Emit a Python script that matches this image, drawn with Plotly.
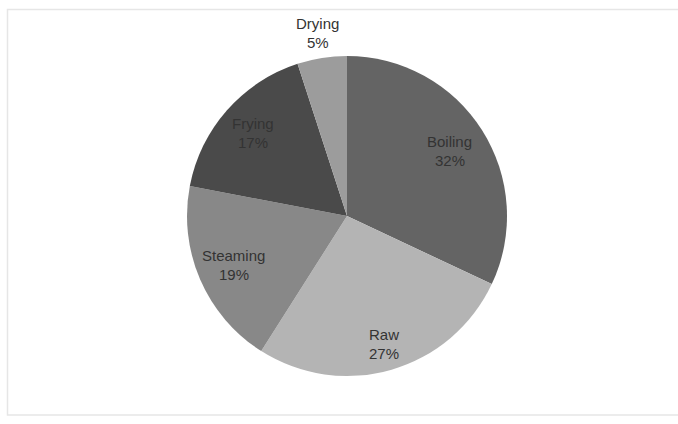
import math
import plotly.graph_objects as go

labels = ["Boiling", "Raw", "Steaming", "Frying", "Drying"]
values = [32, 27, 19, 17, 5]
colors = ["#646464", "#b4b4b4", "#888888", "#4a4a4a", "#9c9c9c"]
label_radius = [0.76, 0.83, 0.77, 0.78, 1.16]  # label distance as fraction of radius

W, H = 678, 424
cx, cy, R = 347, 216, 160
line_gap = 9.5

fig = go.Figure(go.Pie(
    labels=labels,
    values=values,
    sort=False,
    direction="clockwise",
    rotation=0,
    marker=dict(colors=colors, line=dict(width=0)),
    textinfo="none",
    showlegend=False,
    hoverinfo="label+percent",
    domain=dict(x=[(cx - R) / W, (cx + R) / W], y=[(H - cy - R) / H, (H - cy + R) / H]),
))

total = sum(values)
font = dict(family="Liberation Sans, Arial", size=15, color="#333333")
annotations = []
cum = 0
for lab, v, rf in zip(labels, values, label_radius):
    mid = (cum + v / 2) / total * 2 * math.pi
    cum += v
    px = cx + rf * R * math.sin(mid)
    py = cy - rf * R * math.cos(mid)
    for txt, dy in ((lab, -line_gap), (f"{round(v / total * 100)}%", line_gap)):
        annotations.append(dict(
            x=px / W, y=1 - (py + dy) / H, xref="paper", yref="paper",
            text=txt, showarrow=False, font=font,
            xanchor="center", yanchor="middle",
        ))

fig.update_layout(
    width=W, height=H,
    margin=dict(l=0, r=0, t=0, b=0),
    paper_bgcolor="white",
    plot_bgcolor="white",
    annotations=annotations,
    shapes=[dict(type="rect", xref="paper", yref="paper",
                 x0=7.5 / W, x1=1.01, y0=1 - 415 / H, y1=1 - 9.5 / H,
                 line=dict(color="#e6e6e6", width=1.5))],
)

fig.write_html("out.html")
